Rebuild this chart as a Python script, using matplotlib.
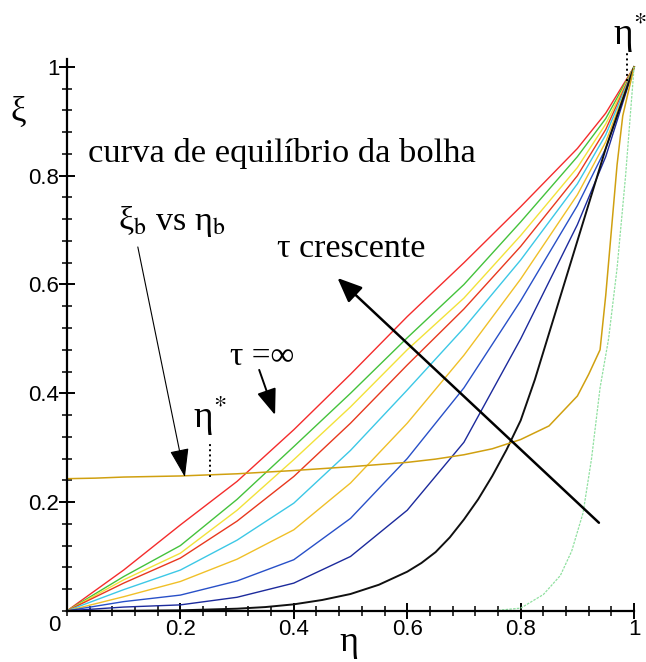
import numpy as np
import matplotlib.pyplot as plt
from matplotlib.ticker import FixedLocator

plt.rcParams['mathtext.fontset'] = 'stix'
serif = ['Liberation Serif', 'DejaVu Serif']

# eta grid shared by the family of finite-tau curves
eta = [0, 0.1, 0.2, 0.3, 0.4, 0.5, 0.6, 0.7, 0.8, 0.9, 0.95, 1.0]

xi_red = [0, 0.075, 0.158, 0.238, 0.333, 0.435, 0.541, 0.640, 0.743, 0.850, 0.915, 1.0]
xi_green = [0, 0.063, 0.120, 0.205, 0.302, 0.400, 0.502, 0.600, 0.715, 0.835, 0.905, 1.0]
xi_yellow = [0, 0.057, 0.106, 0.185, 0.278, 0.375, 0.480, 0.575, 0.690, 0.815, 0.895, 1.0]
xi_red2 = [0, 0.051, 0.097, 0.165, 0.247, 0.345, 0.452, 0.555, 0.670, 0.800, 0.885, 1.0]
xi_cyan = [0, 0.039, 0.075, 0.130, 0.198, 0.295, 0.406, 0.520, 0.645, 0.785, 0.875, 1.0]
xi_yellow2 = [0, 0.026, 0.054, 0.095, 0.149, 0.235, 0.345, 0.470, 0.610, 0.765, 0.862, 1.0]
xi_blue1 = [0, 0.017, 0.029, 0.055, 0.094, 0.170, 0.280, 0.410, 0.570, 0.745, 0.850, 1.0]
xi_blue2 = [0, 0.007, 0.011, 0.025, 0.051, 0.100, 0.185, 0.310, 0.500, 0.710, 0.835, 1.0]

eta_black = [0, 0.1, 0.2, 0.3, 0.35, 0.4, 0.45, 0.5, 0.55, 0.6, 0.625, 0.65, 0.675,
             0.7, 0.725, 0.75, 0.775, 0.8, 0.825, 0.85, 0.875, 0.9, 0.925, 0.95, 0.975, 1.0]
xi_black = [0, 0.0, 0.001, 0.004, 0.007, 0.012, 0.020, 0.031, 0.048, 0.072, 0.088, 0.108, 0.135,
            0.168, 0.205, 0.248, 0.296, 0.350, 0.425, 0.510, 0.595, 0.680, 0.765, 0.850, 0.925, 1.0]

# tau = infinity curve
eta_inf = [0, 0.05, 0.1, 0.2, 0.3, 0.4, 0.5, 0.6, 0.65, 0.7, 0.75, 0.8, 0.85, 0.9, 0.92,
           0.94, 0.95, 0.96, 0.97, 0.98, 1.0]
xi_inf = [0.243, 0.244, 0.246, 0.248, 0.252, 0.258, 0.265, 0.273, 0.279, 0.287, 0.298,
          0.315, 0.340, 0.395, 0.435, 0.480, 0.580, 0.700, 0.820, 0.910, 1.0]

# limiting curve (faint green)
eta_lim = [0, 0.6, 0.75, 0.8, 0.84, 0.87, 0.89, 0.91, 0.925, 0.94, 0.955, 0.97, 0.985, 1.0]
xi_lim = [0, 0, 0, 0.005, 0.030, 0.065, 0.110, 0.180, 0.280, 0.410, 0.500, 0.630, 0.800, 1.0]

family = [xi_red, xi_green, xi_yellow, xi_red2, xi_cyan, xi_yellow2, xi_blue1, xi_blue2]
family_colors = ['#f42c2c', '#44c23c', '#f2e23a', '#e8381e', '#3cc8e6', '#f0c028', '#2850c8', '#1c2a9c']

major_ticks = [0.2, 0.4, 0.6, 0.8, 1.0]
tick_labels = ['0.2', '0.4', '0.6', '0.8', '1']
minor_ticks = np.arange(0, 1.001, 0.04)

fig = plt.figure(figsize=(6.46, 6.62), dpi=100)
ax = fig.add_axes([0, 0, 1, 1])
ax.set_xlim(-0.118, 1.021)
ax.set_ylim(-0.094, 1.123)

for xi, c in zip(family, family_colors):
    ax.plot(eta, xi, color=c, lw=1.0)
ax.plot(eta_black, xi_black, color='#101010', lw=1.4)
ax.plot(eta_inf, xi_inf, color='#d0a010', lw=1.1)
ax.plot(eta_lim, xi_lim, color='#90e0a0', lw=0.9, ls=(0, (2, 1)))

# axes through the origin
for s in ['top', 'right']:
    ax.spines[s].set_visible(False)
ax.spines['left'].set_position(('data', 0))
ax.spines['bottom'].set_position(('data', 0))
ax.spines['left'].set_bounds(0, 1.015)
ax.spines['bottom'].set_bounds(0, 1.0)
ax.spines['left'].set_linewidth(1.6)
ax.spines['bottom'].set_linewidth(1.6)

ax.xaxis.set_major_locator(FixedLocator(major_ticks))
ax.yaxis.set_major_locator(FixedLocator(major_ticks))
ax.set_xticklabels(tick_labels)
ax.set_yticklabels(tick_labels)
ax.xaxis.set_minor_locator(FixedLocator(minor_ticks))
ax.yaxis.set_minor_locator(FixedLocator(minor_ticks))
ax.tick_params(which='major', direction='inout', length=11, width=1.4, pad=0,
               labelsize=16)
ax.tick_params(which='minor', direction='inout', length=7, width=1.1)
for lab in ax.get_xticklabels() + ax.get_yticklabels():
    lab.set_family('Liberation Sans')
ax.text(-0.022, -0.026, '0', fontsize=16, family='Liberation Sans',
        ha='center', va='center')

# axis symbols
ax.text(-0.085, 0.917, 'ξ', fontsize=25, family=serif, ha='center', va='center')
ax.text(0.497, -0.058, 'η', fontsize=26, family=serif, ha='center', va='center')

# annotations
ax.text(0.037, 0.825, 'curva de equilíbrio da bolha', fontsize=24.8,
        family=serif, ha='left', va='baseline')
ax.text(0.09, 0.70, r'ξ$_{\mathrm{b}}$ vs η$_{\mathrm{b}}$', fontsize=24.5,
        family=serif, ha='left', va='baseline')
ax.text(0.37, 0.65, 'τ crescente', fontsize=24.5, family=serif,
        ha='left', va='baseline')
ax.text(0.287, 0.452, 'τ =∞', fontsize=24, family=serif, ha='left', va='baseline')
ax.text(0.222, 0.337, r'η$^{*}$', fontsize=27, family=serif, ha='left', va='baseline')
ax.text(0.962, 1.04, r'η$^{*}$', fontsize=27, family=serif, ha='left', va='baseline')

# eta* markers
ax.plot([0.252, 0.252], [0.246, 0.309], color='k', lw=1.4, ls=':')
ax.plot([0.988, 0.988], [0.975, 1.03], color='k', lw=1.4, ls=':')

# arrows
ax.annotate('', xy=(0.208, 0.246), xytext=(0.125, 0.669),
            arrowprops=dict(arrowstyle='-|>,head_length=0.9,head_width=0.3',
                            mutation_scale=20, lw=0.8, color='k',
                            shrinkA=0, shrinkB=0))
ax.annotate('', xy=(0.367, 0.36), xytext=(0.339, 0.443),
            arrowprops=dict(arrowstyle='-|>,head_length=0.8,head_width=0.3',
                            mutation_scale=20, lw=1.4, color='k',
                            shrinkA=0, shrinkB=0))
ax.annotate('', xy=(0.477, 0.612), xytext=(0.938, 0.162),
            arrowprops=dict(arrowstyle='-|>,head_length=0.75,head_width=0.32',
                            mutation_scale=20, lw=1.8, color='k',
                            shrinkA=0, shrinkB=0))

plt.savefig('out.png', dpi=100)
